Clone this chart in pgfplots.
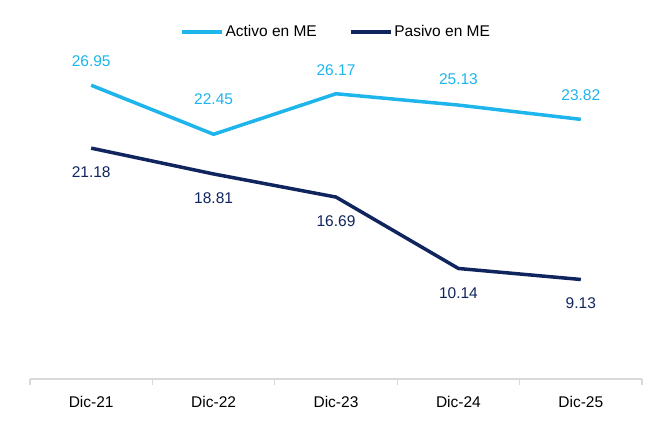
\documentclass[border=0pt]{standalone}
\usepackage{fontspec}
\setmainfont{Liberation Sans}
\usepackage{pgfplots}
\pgfplotsset{compat=1.18}
\definecolor{activo}{HTML}{1EB4EC}
\definecolor{pasivo}{HTML}{10245E}
\definecolor{axgray}{HTML}{D9D9D9}
\begin{document}
\fontsize{15.5}{18}\selectfont
\begin{tikzpicture}[x=1pt,y=1pt]
\useasboundingbox (0,0) rectangle (668,423);
\begin{axis}[
  at={(30pt,44pt)}, anchor=south west,
  scale only axis, width=612pt, height=327pt,
  xmin=-0.5, xmax=4.5, ymin=0, ymax=30,
  axis x line*=bottom, axis y line=none,
  x axis line style={draw=axgray, line width=1.2pt},
  xtick={0,1,2,3,4},
  xticklabels={Dic-21,Dic-22,Dic-23,Dic-24,Dic-25},
  major tick length=0pt,
  xticklabel style={yshift=-12pt, text=black, font=\fontsize{15.5}{18}\selectfont},
  extra x ticks={-0.5,0.5,1.5,2.5,3.5,4.5},
  extra x tick labels={},
  extra x tick style={major tick length=6pt, tick align=outside, major tick style={draw=axgray, line width=1.2pt}},
  clip=false,
  legend style={at={(0.5,1)}, anchor=center, yshift=20pt, draw=none, fill=none,
    legend columns=2, font=\fontsize{15.5}{18}\selectfont,
    /tikz/every even column/.append style={column sep=30pt}},
  legend image code/.code={\draw[#1] (0pt,0pt) -- (40pt,0pt);},
  nodes near coords, point meta=explicit symbolic,
  visualization depends on={\thisrow{off} \as \off},
  every node near coord/.append style={anchor=center, yshift=\off pt, font=\fontsize{15.5}{18}\selectfont},
]
\addplot[activo, line width=3.5pt, nodes near coords style={text=activo}] table[meta=lab] {
x y lab off
0 26.95 26.95 24
1 22.45 22.45 35
2 26.17 26.17 24
3 25.13 25.13 26
4 23.82 23.82 24
};
\addlegendentry{Activo en ME}
\addplot[pasivo, line width=3.5pt, nodes near coords style={text=pasivo}] table[meta=lab] {
x y lab off
0 21.18 21.18 -24
1 18.81 18.81 -24
2 16.69 16.69 -24
3 10.14 10.14 -25
4 9.13 9.13 -24
};
\addlegendentry{Pasivo en ME}
\end{axis}
\end{tikzpicture}
\end{document}
